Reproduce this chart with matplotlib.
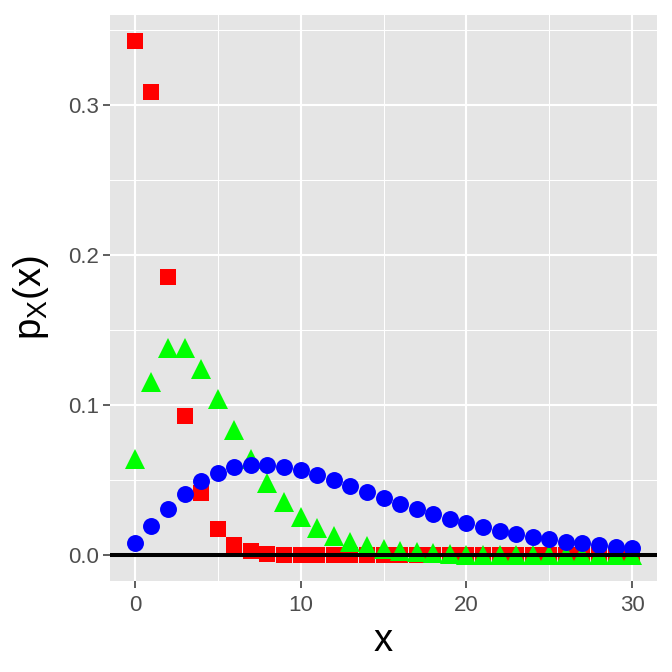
import matplotlib
matplotlib.use("agg")
import matplotlib.pyplot as plt
import numpy as np

plt.rcParams["font.family"] = ["Liberation Sans", "DejaVu Sans"]
plt.rcParams["mathtext.default"] = "regular"

# values (x = 0..30)
x_vals = list(range(31))
red_sq = [0.343, 0.3087, 0.1852, 0.0926, 0.0417, 0.0175, 0.0070, 0.0027, 0.0010, 0.0004,
          0.0001, 0.0, 0.0, 0.0, 0.0, 0.0, 0.0, 0.0, 0.0, 0.0,
          0.0, 0.0, 0.0, 0.0, 0.0, 0.0, 0.0, 0.0, 0.0, 0.0, 0.0]
green_tri = [0.064, 0.1152, 0.1382, 0.1382, 0.1244, 0.1045, 0.0836, 0.0645, 0.0484, 0.0355,
             0.0255, 0.0181, 0.0127, 0.0088, 0.0060, 0.0041, 0.0028, 0.0019, 0.0012, 0.0008,
             0.0005, 0.0004, 0.0002, 0.0001, 0.0, 0.0, 0.0, 0.0, 0.0, 0.0, 0.0]
blue_circ = [0.0080, 0.0192, 0.0307, 0.0410, 0.0492, 0.0551, 0.0587, 0.0604, 0.0604, 0.0591,
             0.0567, 0.0536, 0.0500, 0.0462, 0.0422, 0.0383, 0.0345, 0.0308, 0.0274, 0.0242,
             0.0213, 0.0187, 0.0163, 0.0142, 0.0123, 0.0106, 0.0091, 0.0079, 0.0067, 0.0058, 0.0049]

x_ticks = [0, 10, 20, 30]
y_ticks = [0.0, 0.1, 0.2, 0.3]

fig = plt.figure(figsize=(6.72, 6.72), dpi=100)
ax = fig.add_axes([110 / 672, (672 - 581) / 672, (657 - 110) / 672, (581 - 15) / 672])
ax.set_facecolor("#E5E5E5")

ax.plot(x_vals, red_sq, "s", color="#FF0000", ms=11.5, mew=0, zorder=3)
ax.plot(x_vals, green_tri, "^", color="#00FF00", ms=14, mew=0, zorder=4)
ax.plot(x_vals, blue_circ, "o", color="#0000FF", ms=12.2, mew=0, zorder=5)
ax.axhline(0, color="black", lw=2.9, zorder=6)

ax.set_xlim(-1.5, 31.5)
ax.set_ylim(-0.01715, 0.36015)
ax.set_xticks(x_ticks)
ax.set_yticks(y_ticks)
ax.set_yticklabels(["0.0", "0.1", "0.2", "0.3"])
ax.set_xticks([5, 15, 25], minor=True)
ax.set_yticks([0.05, 0.15, 0.25, 0.35], minor=True)
ax.grid(which="major", color="white", lw=1.5)
ax.grid(which="minor", color="white", lw=0.75)
ax.set_axisbelow(True)
for s in ax.spines.values():
    s.set_visible(False)
ax.tick_params(which="major", length=5, width=1.1, color="#333333",
               labelsize=16, labelcolor="#4D4D4D", pad=3)
ax.tick_params(axis="x", which="major", pad=5)
ax.tick_params(which="minor", length=0)

ax.set_xlabel("x", fontsize=27.5, labelpad=5)
ax.set_ylabel("p$_X$(x)", fontsize=27.5, labelpad=12)

fig.savefig("out.png", dpi=100)
